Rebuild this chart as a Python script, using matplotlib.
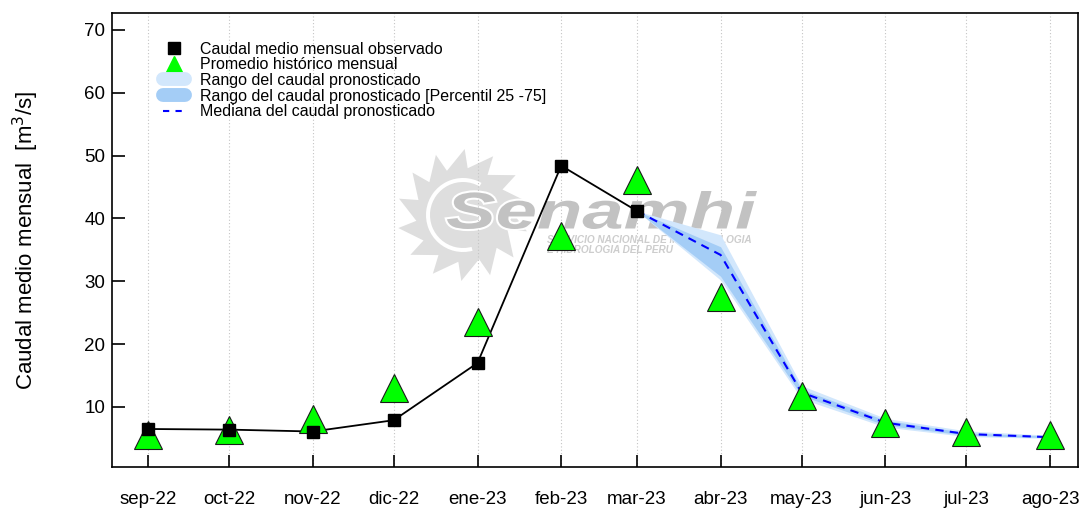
import numpy as np
import pandas as pd
import matplotlib
matplotlib.use("Agg")
import matplotlib.pyplot as plt
from matplotlib.lines import Line2D
from matplotlib.patches import PathPatch, Polygon, Wedge
from matplotlib.textpath import TextPath
from matplotlib.font_manager import FontProperties
from matplotlib.transforms import Affine2D
import matplotlib.patheffects as pe

plt.rcParams["font.family"] = ["Liberation Sans", "DejaVu Sans"]

# --- data ---
months = pd.date_range("2022-09-01", periods=12, freq="MS")
month_labels = ["sep-22", "oct-22", "nov-22", "dic-22", "ene-23", "feb-23",
                "mar-23", "abr-23", "may-23", "jun-23", "jul-23", "ago-23"]

observed = [6.5, 6.4, 6.1, 7.9, 17.0, 48.4, 41.2]
historical = [5.6, 6.4, 8.1, 13.0, 23.5, 37.2, 46.2, 27.5, 11.7, 7.4, 6.1, 5.5]

# forecast from mar-23 to ago-23
fc_median = [41.2, 34.2, 12.3, 7.5, 5.7, 5.2]
fc_min = [41.2, 30.2, 11.3, 6.8, 5.3, 5.0]
fc_max = [41.2, 37.4, 13.4, 8.2, 6.2, 5.5]
fc_p25 = [41.2, 30.8, 11.8, 7.1, 5.5, 5.1]
fc_p75 = [41.2, 35.5, 12.8, 7.9, 5.9, 5.35]

light_blue = "#d2e7fc"
mid_blue = "#a4cdf6"

fig = plt.figure(figsize=(10.82, 5.08), dpi=100)
ax = fig.add_axes([0.1035, 0.0807, 0.893, 0.8937])

# pixel coords (from top-left) -> figure
px = Affine2D().scale(1, -1).translate(0, 508).scale(1 / 1082, 1 / 508) + fig.transFigure

# --- watermark (logo) ---
n_rays = 14
k = np.arange(2 * n_rays)
ang = k * np.pi / n_rays + 0.1
rad = np.where(k % 2 == 0, 66, 47)
twist = np.where(k % 2 == 0, 0.15, 0.0)
sun = np.column_stack([463 + rad * np.cos(ang + twist), 215 + rad * np.sin(ang + twist)])
ax.add_patch(Polygon(sun, closed=True, facecolor="#dedede", edgecolor="none",
                     transform=px, zorder=0.2, clip_on=False))
ax.add_patch(Wedge((463, 215), 37, 75, 300, width=4, facecolor="white", edgecolor="none",
                   transform=px, zorder=0.25, clip_on=False))

fp = FontProperties(family="Liberation Sans", weight="bold", style="italic")
tp = TextPath((0, 0), "Senamhi", prop=fp, size=1)
ext = tp.get_extents()
x0, x1, y0, y1 = 447, 757, 191, 229
tr = (Affine2D().translate(-ext.x0, -ext.y0)
      .scale((x1 - x0) / ext.width, -(y1 - y0) / ext.height)
      .translate(x0, y1) + px)
ax.add_patch(PathPatch(tp, facecolor="#c2c2c2", edgecolor="none", transform=tr,
                       zorder=0.3, clip_on=False,
                       path_effects=[pe.Stroke(linewidth=3, foreground="white"), pe.Normal()]))
ax.text(547 / 1082, 1 - 240 / 508, "SERVICIO NACIONAL DE METEOROLOGIA", transform=fig.transFigure,
        fontsize=7.2, fontweight="bold", fontstyle="italic", color="#cdcdcd",
        ha="left", va="center", zorder=0.3)
ax.text(547 / 1082, 1 - 250 / 508, "E HIDROLOGIA DEL PERU", transform=fig.transFigure,
        fontsize=7.2, fontweight="bold", fontstyle="italic", color="#cdcdcd",
        ha="left", va="center", zorder=0.3)

# --- forecast bands ---
fc_dates = months[6:]
ax.fill_between(fc_dates, fc_min, fc_max, color=light_blue, linewidth=0, zorder=2)
ax.fill_between(fc_dates, fc_p25, fc_p75, color=mid_blue, linewidth=0, zorder=2.1)

# --- lines / markers ---
ax.plot(months[:len(observed)], observed, color="black", linewidth=1.3, zorder=3)
ax.plot(fc_dates, fc_median, color="#0000ff", linestyle=(0, (4, 3)), linewidth=1.5, zorder=3.2)
ax.plot(months, historical, linestyle="none", marker="^", markersize=20,
        markerfacecolor="#00ff00", markeredgecolor="#1a1a1a", markeredgewidth=0.8, zorder=3.5)
ax.plot(months[:len(observed)], observed, linestyle="none", marker="s", markersize=8.5,
        color="black", zorder=4)

# --- axes ---
ax.set_xlim(pd.Timestamp("2022-08-18 16:00"), pd.Timestamp("2023-08-11 10:00"))
ax.set_ylim(0.45, 72.7)
ax.set_xticks(months)
ax.set_xticklabels(month_labels)
ax.set_yticks([10, 20, 30, 40, 50, 60, 70])
ax.tick_params(axis="x", direction="in", length=9, width=1.2, labelsize=13.5, pad=17.5)
ax.tick_params(axis="y", direction="in", length=9, width=1.2, labelsize=13.5, pad=5)
ax.set_axisbelow(True)
ax.grid(axis="x", color="#c4c4c4", linestyle=(0, (1, 2)), linewidth=0.8)
for s in ax.spines.values():
    s.set_linewidth(1.2)
ax.set_ylabel("Caudal medio mensual  [m$^3$/s]", fontsize=16, labelpad=31)

# --- legend ---
handles = [
    Line2D([], [], marker="s", color="black", linestyle="none", markersize=8),
    Line2D([], [], marker="^", color="#00ff00", linestyle="none", markersize=11),
    Line2D([], [], color=light_blue, linewidth=10, solid_capstyle="round"),
    Line2D([], [], color=mid_blue, linewidth=10, solid_capstyle="round"),
    Line2D([], [], color="#0000ff", linestyle=(0, (3, 3)), linewidth=1.5),
]
labels = ["Caudal medio mensual observado", "Promedio histórico mensual",
          "Rango del caudal pronosticado", "Rango del caudal pronosticado [Percentil 25 -75]",
          "Mediana del caudal pronosticado"]
ax.legend(handles, labels, loc="upper left", bbox_to_anchor=(0.046, 0.951), frameon=False,
          fontsize=11.5, labelspacing=0.04, handlelength=1.4, handletextpad=0.95,
          borderaxespad=0, borderpad=0.4)

fig.savefig("out.png", dpi=100)
